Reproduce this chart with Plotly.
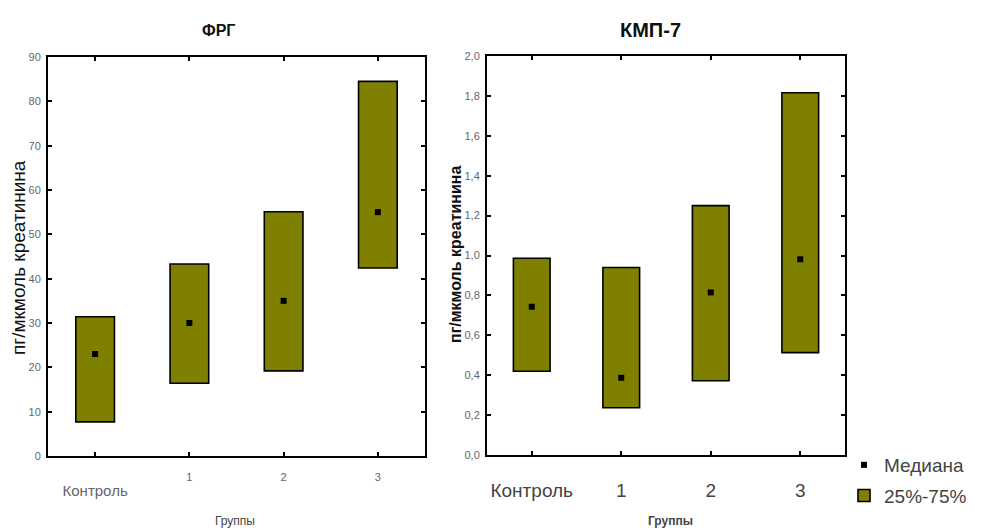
import plotly.graph_objects as go

categories = ["Контроль", "1", "2", "3"]

# ФРГ (left panel)
frg_q25 = [7.7, 16.4, 19.2, 42.4]
frg_q75 = [31.4, 43.3, 55.1, 84.5]
frg_median = [23.0, 30.0, 35.0, 55.0]

# КМП-7 (right panel)
kmp_q25 = [0.42, 0.237, 0.372, 0.513]
kmp_q75 = [0.986, 0.94, 1.25, 1.816]
kmp_median = [0.743, 0.387, 0.815, 0.981]

left_yticks = [0, 10, 20, 30, 40, 50, 60, 70, 80, 90]
right_yticks = [0.0, 0.2, 0.4, 0.6, 0.8, 1.0, 1.2, 1.4, 1.6, 1.8, 2.0]

OLIVE = "#808000"
FONT = "Liberation Sans Narrow, Liberation Sans, Arial, sans-serif"

# page body has an 8px margin; figure sized to fit the window
OFF = 8
W, H = 981 - OFF, 532 - OFF


def fx(X):
    return (X - OFF) / W


def fy(Y):
    return 1 - (Y - OFF) / H


fig = go.Figure()


def add_panel(q25, q75, med, xa, ya, show):
    fig.add_trace(go.Scatter(
        x=categories, y=med, mode="markers", name="Медиана",
        marker=dict(symbol="square", size=6, color="black"),
        xaxis=xa, yaxis=ya, showlegend=show, legendgroup="med", legendrank=1,
    ))
    fig.add_trace(go.Bar(
        x=categories, y=[b - a for a, b in zip(q25, q75)], base=q25,
        width=0.41, name="25%-75%",
        marker=dict(color=OLIVE, line=dict(color="black", width=1.6)),
        xaxis=xa, yaxis=ya, showlegend=show, legendgroup="box", legendrank=2,
    ))


add_panel(frg_q25, frg_q75, frg_median, "x", "y", True)
add_panel(kmp_q25, kmp_q75, kmp_median, "x2", "y2", False)

axis_common = dict(
    showline=True, linecolor="black", linewidth=2, mirror="ticks",
    ticks="inside", ticklen=4, tickwidth=1.5, tickcolor="black",
    showgrid=False, zeroline=False,
)

left_xtext = [' <br><span style="font-size:15px">Контроль</span>', "1", "2", "3"]


def ann(text, X, Y, size, angle=0, color="#111111"):
    return dict(text=text, x=fx(X), y=fy(Y), xref="paper", yref="paper",
                xanchor="center", yanchor="middle", textangle=angle,
                showarrow=False, font=dict(size=size, color=color, family=FONT))


fig.update_layout(
    width=W, height=H,
    margin=dict(l=0, r=0, t=0, b=0, autoexpand=False),
    paper_bgcolor="white", plot_bgcolor="white",
    separators=", ",
    font=dict(family=FONT, color="#333333"),
    barmode="overlay",
    xaxis=dict(domain=[fx(48), fx(425)], anchor="y", type="category",
               categoryorder="array", categoryarray=categories,
               range=[-0.5, 3.5], tickvals=categories, ticktext=left_xtext,
               ticklabelstandoff=10,
               tickfont=dict(size=11, color="#666666", family=FONT), **axis_common),
    yaxis=dict(domain=[fy(456), fy(57)], anchor="x", range=[0, 90],
               tickvals=left_yticks, ticklabelstandoff=3,
               tickfont=dict(size=11, color="#666666", family=FONT),
               **axis_common),
    xaxis2=dict(domain=[fx(487), fx(845)], anchor="y2", type="category",
                categoryorder="array", categoryarray=categories,
                range=[-0.5, 3.5], ticklabelstandoff=17,
                tickfont=dict(size=19, color="#444444", family=FONT),
                **axis_common),
    yaxis2=dict(domain=[fy(455), fy(56)], anchor="x2", range=[0, 2.0],
                tickvals=right_yticks, tickformat=".1f", ticklabelstandoff=3,
                tickfont=dict(size=11, color="#666666", family=FONT), **axis_common),
    legend=dict(x=fx(844), y=fy(446), xanchor="left", yanchor="top",
                font=dict(size=19, color="#444444", family=FONT),
                bgcolor="rgba(0,0,0,0)", tracegroupgap=3, itemwidth=30),
    annotations=[
        ann("<b>ФРГ</b>", 218, 30, 16),
        ann("<b>КМП-7</b>", 650, 30, 20),
        ann("пг/мкмоль креатинина", 18, 258, 19, angle=-90),
        ann("<b>пг/мкмоль креатинина</b>", 455, 255, 16, angle=-90),
        ann("Группы", 235, 521, 12, color="#444444"),
        ann("<b>Группы</b>", 670, 521, 12, color="#444444"),
    ],
)

fig.write_html("out.html")
